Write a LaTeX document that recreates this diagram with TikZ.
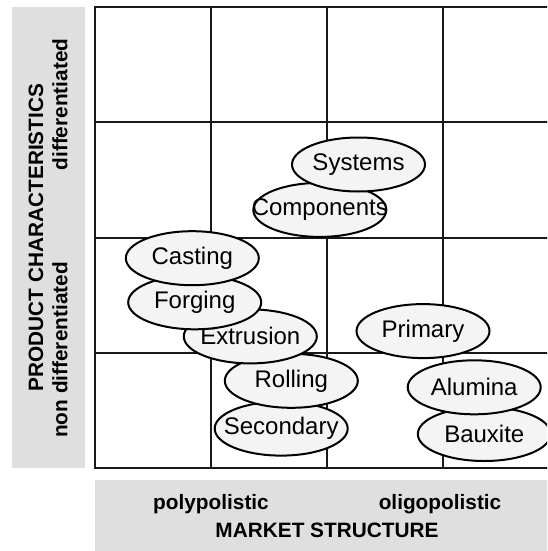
\documentclass[tikz,border=0pt]{standalone}
\usepackage{fontspec}
\setmainfont{Liberation Sans}
\usetikzlibrary{shapes.geometric}
\begin{document}
\begin{tikzpicture}[x=1pt,y=-1pt,
  blob/.style={ellipse,draw=black,line width=2pt,fill=gray!9,minimum width=133pt,minimum height=54pt,inner sep=0pt},
  lbl/.style={font=\fontsize{24}{28}\selectfont,inner sep=0pt},
  axis/.style={font=\fontsize{20.8}{26}\selectfont\bfseries,inner sep=0pt,align=center},
  greybox/.style={fill=gray!25,draw=none},
  gridline/.style={line width=1.6pt,draw=black!90}]
\useasboundingbox (0,0) rectangle (547,551);
\clip (0,0) rectangle (547,551);
% grey label boxes
\fill[greybox] (11.5,7) rectangle (85,468);
\fill[greybox] (95,480) rectangle (560,551);
% grid
\foreach \x in {211,327,443} \draw[gridline] (\x,7) -- (\x,468);
\foreach \y in {122,238,353} \draw[gridline] (95,\y) -- (560,\y);
\draw[gridline] (95,7) rectangle (559,468);
% axis texts
\node[axis,rotate=90] (pc) at (36,237.5) {PRODUCT CHARACTERISTICS};
\node[axis,rotate=90] (diff) at (60,104.5) {differentiated};
\node[axis,rotate=90] (nondiff) at (60,350) {non differentiated};
\node[axis] (poly) at (211,504) {polypolistic};
\node[axis] (oligo) at (440,504) {oligopolistic};
\node[axis] (ms) at (327,530) {MARKET STRUCTURE};
% ellipses, drawn from bottom to top
\foreach \n/\t/\x/\y in {
  bau/Bauxite/484.3/434,
  alu/Alumina/474.2/387.3,
  sec/Secondary/281.2/428.6,
  rol/Rolling/291.3/380.8,
  ext/Extrusion/250.3/336.4,
  forg/Forging/194.7/302.3,
  cast/Casting/192.3/258.2,
  comp/Components/319.8/209.9,
  sys/Systems/358.5/164.5,
  prim/Primary/423/331.1}{
  \node[blob] (\n) at (\x,\y) {};
  \node[lbl] (\n-t) at (\n) {\t};
}
\end{tikzpicture}
\end{document}
